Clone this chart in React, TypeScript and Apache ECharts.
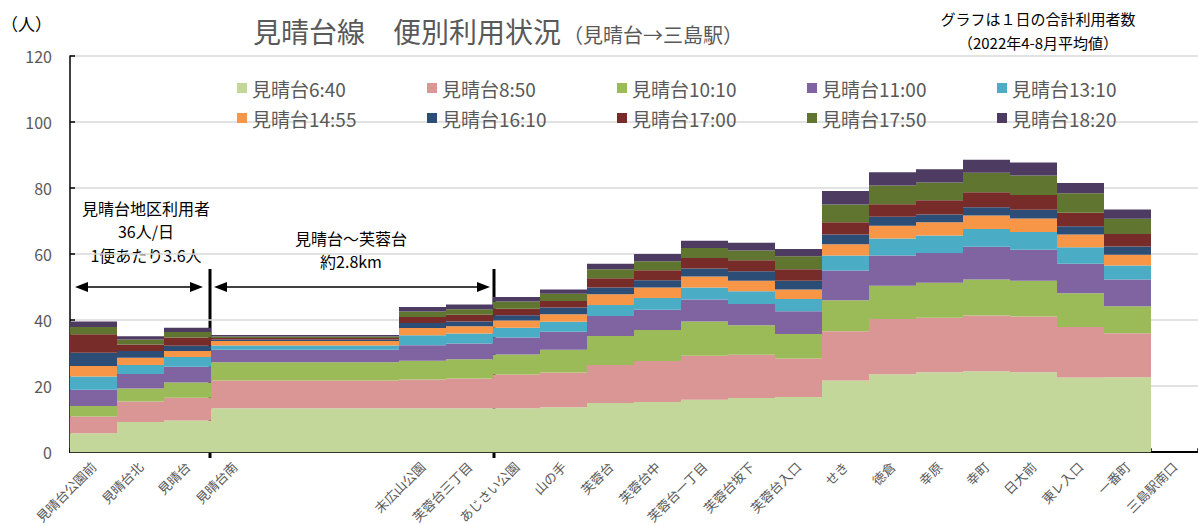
import React, { useEffect, useRef } from 'react';
import * as echarts from 'echarts';

const categories = ['見晴台公園前', '見晴台北', '見晴台', '見晴台南', '', '', '', '末広山公園', '芙蓉台三丁目', 'あじさい公園', '山の手', '芙蓉台', '芙蓉台中', '芙蓉台一丁目', '芙蓉台坂下', '芙蓉台入口', 'せき', '徳倉', '幸原', '幸町', '日大前', '東レ入口', '一番町', '三島駅南口'];

const seriesNames = ['見晴台6:40', '見晴台8:50', '見晴台10:10', '見晴台11:00', '見晴台13:10', '見晴台14:55', '見晴台16:10', '見晴台17:00', '見晴台17:50', '見晴台18:20'];

const s0640 = [5.7, 9.1, 9.6, 13.3, 13.3, 13.3, 13.3, 13.3, 13.3, 13.3, 13.6, 14.9, 15.2, 15.9, 16.4, 16.7, 21.7, 23.6, 24.2, 24.5, 24.2, 22.6, 22.7, 0];
const s0850 = [5.1, 6.2, 6.9, 8.4, 8.4, 8.4, 8.4, 8.7, 9.0, 10.2, 10.5, 11.5, 12.4, 13.3, 13.1, 11.7, 14.9, 16.7, 16.5, 16.9, 16.9, 15.3, 13.3, 0];
const s1010 = [3.2, 4.0, 4.6, 5.5, 5.5, 5.5, 5.5, 5.7, 5.8, 6.1, 6.9, 8.8, 9.4, 10.4, 8.9, 7.4, 9.4, 10.1, 10.6, 10.9, 10.8, 10.2, 8.2, 0];
const s1100 = [4.9, 4.4, 4.8, 3.8, 3.8, 3.8, 3.8, 4.7, 4.8, 5.1, 5.5, 6.0, 6.1, 6.6, 6.5, 6.9, 9.0, 9.2, 9.0, 9.9, 9.4, 9.0, 8.1, 0];
const s1310 = [4.0, 2.7, 2.9, 1.3, 1.3, 1.3, 1.3, 3.0, 3.0, 3.0, 3.0, 3.4, 3.6, 3.7, 3.8, 3.7, 4.6, 5.1, 5.3, 5.4, 5.4, 5.0, 4.2, 0];
const s1455 = [3.2, 2.2, 1.8, 1.4, 1.4, 1.4, 1.4, 2.2, 2.2, 2.2, 2.3, 3.2, 3.2, 3.3, 3.2, 2.9, 3.4, 3.9, 4.0, 4.1, 4.1, 3.8, 3.3, 0];
const s1610 = [4.0, 2.0, 1.6, 0.4, 0.4, 0.4, 0.4, 1.5, 1.5, 1.6, 2.0, 2.1, 2.2, 2.4, 2.9, 2.6, 2.9, 2.7, 2.4, 2.5, 2.6, 2.5, 2.5, 0];
const s1700 = [5.6, 2.0, 2.5, 0.5, 0.5, 0.5, 0.5, 1.8, 2.0, 1.9, 2.0, 2.8, 3.0, 3.2, 3.3, 3.5, 3.7, 3.8, 4.3, 4.5, 4.5, 4.1, 3.8, 0];
const s1750 = [2.2, 1.5, 1.7, 0.4, 0.4, 0.4, 0.4, 1.7, 1.7, 2.2, 2.2, 2.7, 2.7, 3.0, 3.0, 3.9, 5.4, 5.7, 5.4, 5.9, 5.9, 5.9, 4.6, 0];
const s1820 = [1.7, 1.0, 1.3, 0.5, 0.5, 0.5, 0.5, 1.4, 1.4, 1.4, 1.3, 1.7, 2.2, 2.2, 2.3, 2.2, 4.1, 4.0, 4.0, 4.0, 3.9, 3.1, 2.8, 0];

const seriesValues = [s0640, s0850, s1010, s1100, s1310, s1455, s1610, s1700, s1750, s1820];
const seriesColors = ['#c4d79b', '#da9694', '#9bbb59', '#8064a2', '#4bacc6', '#f79646', '#2c4d75', '#772c2a', '#5f7530', '#4d3b62'];

const yTicks = { min: 0, max: 120, interval: 20 };

const FONT = '"Noto Sans CJK JP", "Noto Sans", sans-serif';

export default function App() {
  const ref = useRef<HTMLDivElement>(null);
  useEffect(() => {
    if (!ref.current) return;
    const chart = echarts.init(ref.current, undefined, { renderer: 'svg' });
    const arrowY = 287;
    const txt = (text: string, x: number, y: number, size: number, color: string, align = 'center', lineHeight?: number) => ({
      type: 'text',
      x, y,
      style: {
        text, fill: color, font: `${size}px ${FONT}`, fontSize: size, fontFamily: FONT,
        textAlign: align, textVerticalAlign: 'middle', verticalAlign: 'middle',
        ...(lineHeight ? { lineHeight } : {}),
      },
    });
    const option: any = {
      animation: false,
      textStyle: { fontFamily: FONT },
      grid: { left: 70, right: 0, top: 56, bottom: 68, containLabel: false },
      legend: {
        left: 232, top: 73, width: 950, padding: 5,
        itemWidth: 10, itemHeight: 10, itemGap: 10, icon: 'rect',
        selectedMode: false,
        textStyle: { fontSize: 19, color: '#595959', width: 165, lineHeight: 20, fontFamily: FONT },
        data: seriesNames,
      },
      xAxis: {
        type: 'category',
        data: categories,
        axisLine: { lineStyle: { color: '#000', width: 2 } },
        axisTick: { show: true, inside: true, length: 4, lineStyle: { color: '#000', width: 1.5 } },
        axisLabel: { interval: 0, rotate: 45, fontSize: 13, color: '#595959', margin: 12, fontFamily: FONT },
        splitLine: { show: false },
      },
      yAxis: {
        type: 'value',
        min: yTicks.min, max: yTicks.max, interval: yTicks.interval,
        axisLine: { show: true, lineStyle: { color: '#000', width: 1.5 } },
        axisTick: { show: true, inside: true, length: 5, lineStyle: { color: '#000', width: 1.5 } },
        axisLabel: { fontSize: 16, color: '#595959', margin: 18, fontFamily: FONT },
        splitLine: { show: true, lineStyle: { color: '#d9d9d9', width: 1.5 } },
      },
      series: seriesNames.map((name, i) => ({
        name,
        type: 'bar',
        stack: 'total',
        barCategoryGap: '0%',
        barGap: '0%',
        data: seriesValues[i],
        itemStyle: { color: seriesColors[i] },
        emphasis: { disabled: true },
      })),
      graphic: [
        txt('（人）', 1, 23, 17, '#000', 'left'),
        txt('見晴台線　便別利用状況', 253, 31, 28, '#595959', 'left'),
        txt('（見晴台→三島駅）', 563, 34, 20, '#595959', 'left'),
        txt('グラフは１日の合計利用者数\n（2022年4-8月平均値）', 1038, 30, 15, '#000', 'center', 24),
        txt('見晴台地区利用者\n36人/日\n1便あたり3.6人', 146, 231, 16, '#000', 'center', 23.5),
        txt('見晴台～芙蓉台\n約2.8km', 351, 249.5, 16, '#000', 'center', 23.5),
        { type: 'line', shape: { x1: 210, y1: 269, x2: 210, y2: 458 }, style: { stroke: '#000', lineWidth: 3 } },
        { type: 'line', shape: { x1: 494, y1: 269, x2: 494, y2: 458 }, style: { stroke: '#000', lineWidth: 3 } },
        { type: 'line', shape: { x1: 84, y1: arrowY, x2: 194, y2: arrowY }, style: { stroke: '#000', lineWidth: 1.5 } },
        { type: 'polygon', shape: { points: [[75, arrowY], [88, arrowY - 5], [88, arrowY + 5]] }, style: { fill: '#000' } },
        { type: 'polygon', shape: { points: [[203, arrowY], [190, arrowY - 5], [190, arrowY + 5]] }, style: { fill: '#000' } },
        { type: 'line', shape: { x1: 222, y1: arrowY, x2: 482, y2: arrowY }, style: { stroke: '#000', lineWidth: 1.5 } },
        { type: 'polygon', shape: { points: [[214, arrowY], [227, arrowY - 5], [227, arrowY + 5]] }, style: { fill: '#000' } },
        { type: 'polygon', shape: { points: [[490, arrowY], [477, arrowY - 5], [477, arrowY + 5]] }, style: { fill: '#000' } },
      ],
    };
    chart.setOption(option);
    return () => chart.dispose();
  }, []);
  return <div ref={ref} style={{ position: 'fixed', left: 0, top: 0, width: 1198, height: 526, background: '#fff' }} />;
}
